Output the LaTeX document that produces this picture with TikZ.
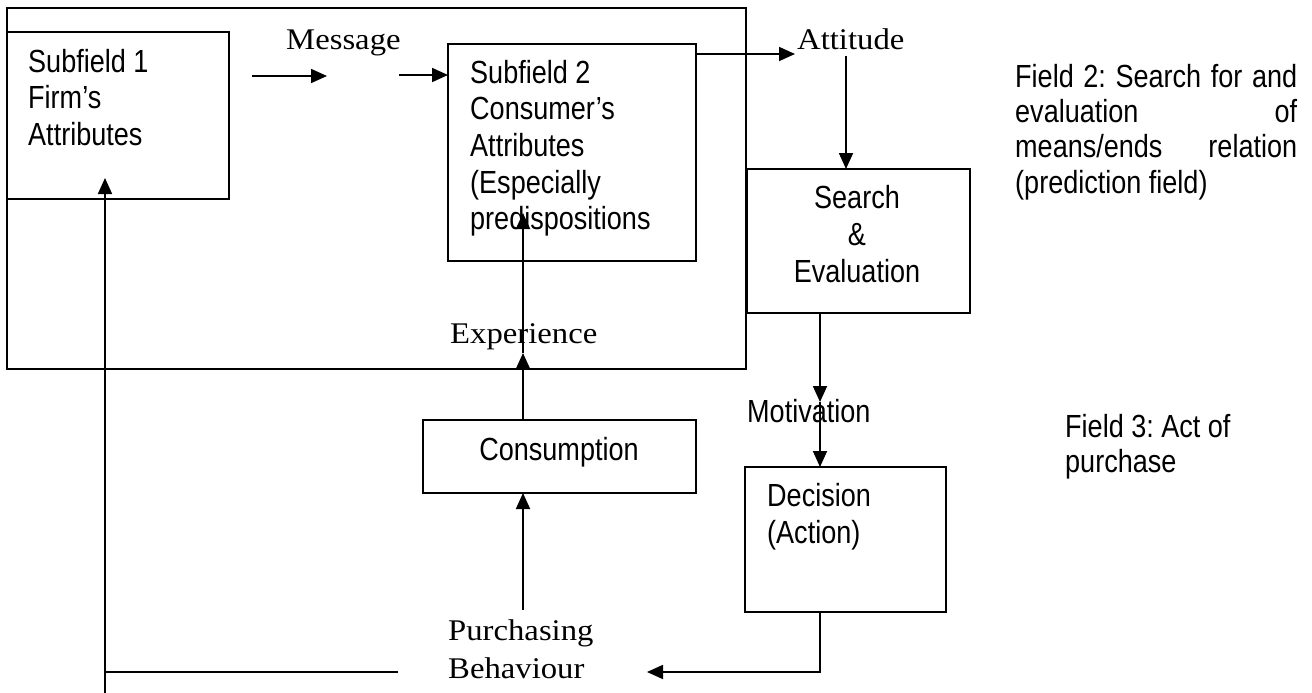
\documentclass[tikz,border=0pt]{standalone}
\usepackage{fontspec}
\setmainfont{Liberation Serif}
\newfontfamily\sansf[FakeStretch=0.845]{Liberation Sans}
\newfontfamily\seriff[FakeStretch=1.09]{Liberation Serif}
\usetikzlibrary{arrows.meta,calc}
\frenchspacing

\tikzset{
  frame/.style={draw, line width=1.8pt, inner sep=0pt, outer sep=0pt, anchor=north west},
  sanstext/.style={font=\sansf\fontsize{32}{36.7}\selectfont, inner sep=0pt, align=left},
  seriftext/.style={font=\seriff\fontsize{30}{38}\selectfont, inner sep=0pt, align=left},
  flow/.style={line width=1.8pt, -{Triangle[length=16pt,width=14pt]}},
  plain/.style={line width=1.8pt},
}

\begin{document}
\begin{tikzpicture}[x=1pt,y=-1pt]
\useasboundingbox (0,0) rectangle (1312,693);

% fields and boxes
\node[frame, minimum width=739pt, minimum height=361pt] (field1) at (7,8) {};
\node[frame, minimum width=222pt, minimum height=167pt] (sub1) at (7,32) {};
\node[frame, minimum width=248pt, minimum height=217pt] (sub2) at (448,44) {};
\node[frame, minimum width=223pt, minimum height=144pt] (search) at (747,169) {};
\node[frame, minimum width=273pt, minimum height=73pt] (consume) at (423,420) {};
\node[frame, minimum width=201pt, minimum height=145pt] (decide) at (745,467) {};

% texts (multi-line nodes are placed by the baseline of their last line)
\node[sanstext, anchor=base west] (sub1txt) at (28,145.4) {Subfield 1\\Firm’s\\Attributes};
\node[sanstext, anchor=base west] (sub2txt) at (470,229.8) {Subfield 2\\Consumer’s\\Attributes\\(Especially\\predispositions};
\node[seriftext, anchor=base west] (msg) at (286,50) {Message};
\node[seriftext, anchor=base west] (att) at (797,50) {Attitude};
\node[sanstext, align=center, anchor=base] (searchtxt) at (857,282) {Search\\\&\\Evaluation};
\node[seriftext, anchor=base west] (exp) at (450,343) {Experience};
\node[sanstext, anchor=base west] (mot) at (747,422) {Motivation};
\node[sanstext, anchor=base] (constxt) at (559,460) {Consumption};
\node[sanstext, anchor=base west] (dectxt) at (767,543.5) {Decision\\(Action)};
\node[seriftext, anchor=base west] (pbtxt) at (448,678) {Purchasing\\Behaviour};
\node[sanstext, anchor=base west, font=\sansf\fontsize{32}{35.4}\selectfont] (field2txt) at (1015,193.2)
  {\makebox[282pt][s]{Field 2: Search for and}\\\makebox[282pt][s]{evaluation of}\\\makebox[282pt][s]{means/ends relation}\\(prediction field)};
\node[sanstext, anchor=base west, font=\sansf\fontsize{32}{35}\selectfont] (field3txt) at (1065,472) {Field 3: Act of\\purchase};

% connector end points
\coordinate (msgA) at (252,76);
\coordinate (msgB) at (327,76);
\coordinate (msgC) at (399,75);
\coordinate (attOut) at ($(sub2.north east)+(0,10)$);
\coordinate (attTip) at (795,54);
\coordinate (attDown) at (846,56);
\coordinate (motTip) at (820,402);
\coordinate (pbTip) at (647,672);
\coordinate (pbUp) at (523,610);
\coordinate (expTip) at (523,353);
\coordinate (preTip) at (523,213);
\coordinate (fbStart) at (398,672);
\coordinate (fbFoot) at (105,693);
\coordinate (fbTip) at (105,178);

% connectors
\draw[flow] (msgA) -- (msgB);
\draw[flow] (msgC) -- (msgC -| sub2.west);
\draw[flow] (attOut) -- (attTip);
\draw[flow] (attDown) -- (attDown |- search.north);
\draw[flow] (motTip |- search.south) -- (motTip);
\draw[flow] (motTip) -- (motTip |- decide.north);
\draw[flow] (motTip |- decide.south) |- (pbTip);
\draw[flow] (pbUp) -- (pbUp |- consume.south);
\draw[flow] (expTip |- consume.north) -- (expTip);
\draw[flow] (expTip) -- (preTip);
\draw[plain] (fbStart) -- (fbStart -| fbFoot);
\draw[flow] (fbFoot) -- (fbTip);
\end{tikzpicture}
\end{document}
